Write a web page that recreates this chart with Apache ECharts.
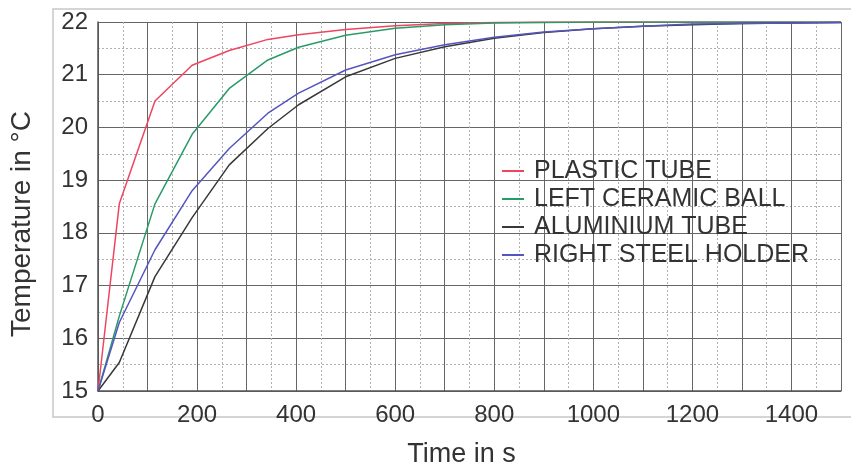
<!DOCTYPE html>
<html>
<head>
<meta charset="utf-8">
<script src="https://cdn.jsdelivr.net/npm/echarts@6/dist/echarts.min.js"></script>
<style>
html,body{margin:0;padding:0;background:#fff;}
#chart{width:851px;height:473px;}
</style>
</head>
<body>
<div id="chart"></div>
<script>
const times = [0, 43, 115, 190, 265, 343, 405, 500, 600, 700, 800, 900, 1000, 1100, 1200, 1300, 1400, 1500];
const plasticTube = [15, 18.55, 20.5, 21.18, 21.46, 21.67, 21.76, 21.86, 21.93, 21.97, 21.99, 22.0, 22.0, 22.0, 22.0, 22.0, 22.0, 22.0];
const leftCeramicBall = [15, 16.42, 18.55, 19.87, 20.74, 21.28, 21.52, 21.75, 21.88, 21.95, 21.98, 21.99, 22.0, 22.0, 22.0, 22.0, 22.0, 22.0];
const aluminiumTube = [15, 15.54, 17.17, 18.29, 19.29, 19.98, 20.43, 20.96, 21.31, 21.53, 21.69, 21.8, 21.87, 21.92, 21.95, 21.97, 21.98, 21.99];
const rightSteelHolder = [15, 16.3, 17.68, 18.8, 19.6, 20.27, 20.65, 21.09, 21.38, 21.57, 21.71, 21.81, 21.87, 21.92, 21.96, 21.97, 21.98, 21.99];
const seriesNames = ['PLASTIC TUBE', 'LEFT CERAMIC BALL', 'ALUMINIUM TUBE', 'RIGHT STEEL HOLDER'];
const seriesColors = ['#ee4560', '#2a9a68', '#383838', '#5555c0'];
const seriesValues = [plasticTube, leftCeramicBall, aluminiumTube, rightSteelHolder];

const FONT = '"Liberation Sans", Arial, Helvetica, sans-serif';
const chart = echarts.init(document.getElementById('chart'));

const pair = arr => times.map((t, i) => [t, arr[i]]);

chart.setOption({
  backgroundColor: '#ffffff',
  animation: false,
  textStyle: { fontFamily: FONT },
  graphic: [{
    type: 'rect',
    z: -10,
    shape: { x: 53, y: 9, width: 820, height: 408 },
    style: { fill: 'none', stroke: '#c8c8c8', lineWidth: 1.5 }
  }],
  grid: { left: 97, right: 10, top: 22, bottom: 80, containLabel: false },
  legend: {
    orient: 'vertical',
    left: 497,
    top: 152,
    itemGap: 0,
    itemWidth: 22,
    itemHeight: 2,
    icon: 'rect',
    data: seriesNames,
    textStyle: { fontFamily: FONT, fontSize: 25, color: '#333', lineHeight: 28, padding: [0, 0, 0, 5] }
  },
  xAxis: {
    type: 'value',
    min: 0,
    max: 1500,
    interval: 100,
    name: 'Time in s',
    nameLocation: 'middle',
    nameGap: 50,
    nameTextStyle: { fontFamily: FONT, fontSize: 27, color: '#333', padding: [0, 16, 0, 0] },
    axisLine: { show: true, lineStyle: { color: '#555', width: 1.5 } },
    axisTick: { show: false },
    axisLabel: {
      margin: 12,
      fontSize: 24,
      color: '#333',
      fontFamily: FONT,
      formatter: v => (v % 200 === 0 ? String(v) : '')
    },
    splitLine: { show: true, lineStyle: { color: '#666', width: 1 } },
    minorTick: { show: false, splitNumber: 2 },
    minorSplitLine: { show: true, lineStyle: { color: '#b0b0b0', width: 1, type: [2, 2] } }
  },
  yAxis: {
    type: 'value',
    min: 15,
    max: 22,
    interval: 1,
    name: 'Temperature in °C',
    nameLocation: 'middle',
    nameGap: 62,
    nameTextStyle: { fontFamily: FONT, fontSize: 28, color: '#333', padding: [0, 35, 0, 0] },
    axisLine: { show: true, lineStyle: { color: '#555', width: 1.5 } },
    axisTick: { show: false },
    axisLabel: { margin: 10, fontSize: 24, color: '#333', fontFamily: FONT },
    splitLine: { show: true, lineStyle: { color: '#666', width: 1 } },
    minorTick: { show: false, splitNumber: 2 },
    minorSplitLine: { show: true, lineStyle: { color: '#b0b0b0', width: 1, type: [2, 2] } }
  },
  series: seriesNames.map((name, i) => ({
    name: name,
    type: 'line',
    data: pair(seriesValues[i]),
    showSymbol: false,
    symbol: 'none',
    smooth: false,
    color: seriesColors[i],
    lineStyle: { color: seriesColors[i], width: 1.5 },
    z: 3 + i
  }))
});
</script>
</body>
</html>
